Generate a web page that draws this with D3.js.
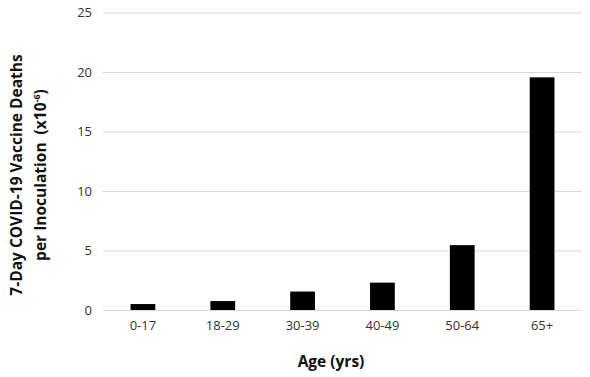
<!DOCTYPE html>
<html><head><meta charset="utf-8">
<script src="https://cdn.jsdelivr.net/npm/d3@7"></script>
<style>body{margin:0;background:#fff}text{font-family:"Open Sans",sans-serif}</style>
</head><body><svg id="c" width="590" height="377"></svg>
<script>
const categories = ["0-17","18-29","30-39","40-49","50-64","65+"];
const values = [0.5, 0.75, 1.55, 2.3, 5.45, 19.55];
const yTicks = [0,5,10,15,20,25];

const svg = d3.select("#c");
const m = {l:103, r:8, t:12.5, b:67};
const W = 590, H = 377;
const x = d3.scaleBand().domain(categories).range([m.l, W-m.r]).paddingInner(0.69).paddingOuter(0.345);
const y = d3.scaleLinear().domain([0,25]).range([H-m.b, m.t]);

const ya = svg.append("g").attr("transform",`translate(${m.l},0)`)
  .call(d3.axisLeft(y).tickValues(yTicks).tickSize(-(W-m.l-m.r)).tickPadding(11));
ya.select(".domain").remove();
ya.selectAll("line").attr("stroke","#d9d9d9");
ya.selectAll("text").attr("font-size",13).attr("fill","#333");

svg.append("g").selectAll("rect").data(values).join("rect")
  .attr("x",(d,i)=>x(categories[i])).attr("width",x.bandwidth())
  .attr("y",d=>y(d)).attr("height",d=>y(0)-y(d)).attr("fill","#000");

const xa = svg.append("g").attr("transform",`translate(0,${y(0)})`)
  .call(d3.axisBottom(x).tickSize(0).tickPadding(11));
xa.select(".domain").remove();
xa.selectAll("text").attr("font-size",13).attr("fill","#333");

svg.append("text").attr("x",331).attr("y",367).attr("text-anchor","middle")
  .attr("font-size",15.5).attr("font-weight","bold").attr("fill","#111").text("Age (yrs)");

const yt = svg.append("text").attr("transform","translate(0,175) rotate(-90)")
  .attr("text-anchor","middle").attr("font-size",15.5).attr("font-weight","bold").attr("fill","#111");
yt.append("tspan").attr("x",0).attr("y",22).text("7-Day COVID-19 Vaccine Deaths");
const l2 = yt.append("tspan").attr("x",0).attr("y",46);
l2.append("tspan").text("per Inoculation\u00A0\u00A0(x10");
l2.append("tspan").attr("font-size",9).attr("dy",-6).text("-6");
l2.append("tspan").attr("dy",6).text(")");
</script></body></html>
